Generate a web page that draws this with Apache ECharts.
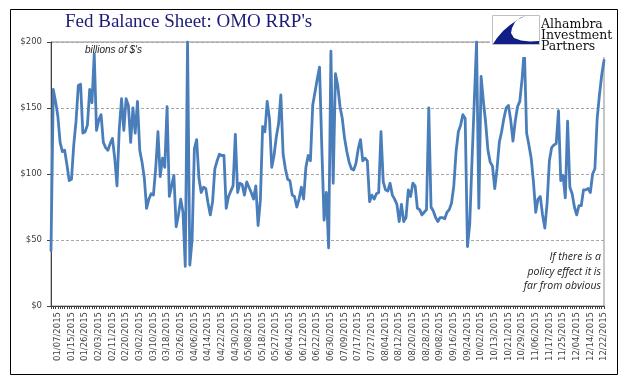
<!DOCTYPE html>
<html>
<head>
<meta charset="utf-8">
<script src="https://cdn.jsdelivr.net/npm/echarts@6/dist/echarts.min.js"></script>
<style>
html,body{margin:0;padding:0;background:#fff;}
#chart{width:641px;height:381px;}
</style>
</head>
<body>
<div id="chart"></div>
<script>
// ---- Category dates (Fed business days 2015) ----
const datesJan = ['01/02/2015','01/05/2015','01/06/2015','01/07/2015','01/08/2015','01/09/2015','01/12/2015','01/13/2015','01/14/2015','01/15/2015','01/16/2015','01/20/2015','01/21/2015','01/22/2015','01/23/2015','01/26/2015','01/27/2015','01/28/2015','01/29/2015','01/30/2015'];
const datesFeb = ['02/02/2015','02/03/2015','02/04/2015','02/05/2015','02/06/2015','02/09/2015','02/10/2015','02/11/2015','02/12/2015','02/13/2015','02/17/2015','02/18/2015','02/19/2015','02/20/2015','02/23/2015','02/24/2015','02/25/2015','02/26/2015','02/27/2015'];
const datesMar = ['03/02/2015','03/03/2015','03/04/2015','03/05/2015','03/06/2015','03/09/2015','03/10/2015','03/11/2015','03/12/2015','03/13/2015','03/16/2015','03/17/2015','03/18/2015','03/19/2015','03/20/2015','03/23/2015','03/24/2015','03/25/2015','03/26/2015','03/27/2015','03/30/2015','03/31/2015'];
const datesApr = ['04/01/2015','04/02/2015','04/06/2015','04/07/2015','04/08/2015','04/09/2015','04/10/2015','04/13/2015','04/14/2015','04/15/2015','04/16/2015','04/17/2015','04/20/2015','04/21/2015','04/22/2015','04/23/2015','04/24/2015','04/27/2015','04/28/2015','04/29/2015','04/30/2015'];
const datesMay = ['05/01/2015','05/04/2015','05/05/2015','05/06/2015','05/07/2015','05/08/2015','05/11/2015','05/12/2015','05/13/2015','05/14/2015','05/15/2015','05/18/2015','05/19/2015','05/20/2015','05/21/2015','05/22/2015','05/26/2015','05/27/2015','05/28/2015','05/29/2015'];
const datesJun = ['06/01/2015','06/02/2015','06/03/2015','06/04/2015','06/05/2015','06/08/2015','06/09/2015','06/10/2015','06/11/2015','06/12/2015','06/15/2015','06/16/2015','06/17/2015','06/18/2015','06/19/2015','06/22/2015','06/23/2015','06/24/2015','06/25/2015','06/26/2015','06/29/2015','06/30/2015'];
const datesJul = ['07/01/2015','07/02/2015','07/06/2015','07/07/2015','07/08/2015','07/09/2015','07/10/2015','07/13/2015','07/14/2015','07/15/2015','07/16/2015','07/17/2015','07/20/2015','07/21/2015','07/22/2015','07/23/2015','07/24/2015','07/27/2015','07/28/2015','07/29/2015','07/30/2015','07/31/2015'];
const datesAug = ['08/03/2015','08/04/2015','08/05/2015','08/06/2015','08/07/2015','08/10/2015','08/11/2015','08/12/2015','08/13/2015','08/14/2015','08/17/2015','08/18/2015','08/19/2015','08/20/2015','08/21/2015','08/24/2015','08/25/2015','08/26/2015','08/27/2015','08/28/2015','08/31/2015'];
const datesSep = ['09/01/2015','09/02/2015','09/03/2015','09/04/2015','09/08/2015','09/09/2015','09/10/2015','09/11/2015','09/14/2015','09/15/2015','09/16/2015','09/17/2015','09/18/2015','09/21/2015','09/22/2015','09/23/2015','09/24/2015','09/25/2015','09/28/2015','09/29/2015','09/30/2015'];
const datesOct = ['10/01/2015','10/02/2015','10/05/2015','10/06/2015','10/07/2015','10/08/2015','10/09/2015','10/13/2015','10/14/2015','10/15/2015','10/16/2015','10/19/2015','10/20/2015','10/21/2015','10/22/2015','10/23/2015','10/26/2015','10/27/2015','10/28/2015','10/29/2015','10/30/2015'];
const datesNov = ['11/02/2015','11/03/2015','11/04/2015','11/05/2015','11/06/2015','11/09/2015','11/10/2015','11/12/2015','11/13/2015','11/16/2015','11/17/2015','11/18/2015','11/19/2015','11/20/2015','11/23/2015','11/24/2015','11/25/2015','11/27/2015','11/30/2015'];
const datesDec = ['12/01/2015','12/02/2015','12/03/2015','12/04/2015','12/07/2015','12/08/2015','12/09/2015','12/10/2015','12/11/2015','12/14/2015','12/15/2015','12/16/2015','12/17/2015','12/18/2015','12/21/2015','12/22/2015'];

// ---- OMO RRP, billions of $ ----
const rrpJan = [42,164,155,144,124,117,118,107,95,96,122,140,167,168,131,132,137,164,154,191];
const rrpFeb = [133,141,145,124,120,118,123,127,112,91,134,157,133,157,152,124,150,131,155];
const rrpMar = [118,109,97,74,81,85,84,104,132,98,112,105,151,83,91,99,60,69,81,71,30,200];
const rrpApr = [31,50,119,126,97,86,90,89,78,69,79,104,110,115,114,114,74,83,87,91,130];
const rrpMay = [86,93,92,84,94,90,86,81,91,61,80,136,132,155,142,105,114,128,138,160];
const rrpJun = [115,104,96,95,84,83,75,81,90,81,105,114,110,152,162,172,181,120,65,86,44,193];
const rrpJul = [93,176,167,151,142,127,117,109,104,103,108,119,126,110,112,110,79,84,81,85,86,132];
const rrpAug = [94,88,87,93,84,81,77,64,77,64,67,88,83,93,91,74,73,69,71,73,150];
const rrpSep = [75,72,67,64,67,67,66,71,73,78,91,117,132,137,145,142,45,62,110,155,200];
const rrpOct = [74,174,155,139,118,109,106,89,104,124,132,142,150,152,141,125,140,151,155,172,195];
const rrpNov = [131,122,112,94,71,81,83,69,59,78,110,120,122,123,148,95,99,82,140];
const rrpDec = [90,85,75,69,76,76,88,88,89,86,100,104,142,160,175,186];

// ---- Tick labels shown on the category axis ----
const tickLabels = ['01/07/2015','01/15/2015','01/26/2015','02/03/2015','02/11/2015','02/20/2015','03/02/2015','03/10/2015','03/18/2015','03/26/2015','04/06/2015','04/14/2015','04/22/2015','04/30/2015','05/08/2015','05/18/2015','05/27/2015','06/04/2015','06/12/2015','06/22/2015','06/30/2015','07/09/2015','07/17/2015','07/27/2015','08/04/2015','08/12/2015','08/20/2015','08/28/2015','09/08/2015','09/16/2015','09/24/2015','10/02/2015','10/13/2015','10/21/2015','10/29/2015','11/06/2015','11/17/2015','11/25/2015','12/04/2015','12/14/2015','12/22/2015'];

const categories = [].concat(datesJan,datesFeb,datesMar,datesApr,datesMay,datesJun,datesJul,datesAug,datesSep,datesOct,datesNov,datesDec);
const values = [].concat(rrpJan,rrpFeb,rrpMar,rrpApr,rrpMay,rrpJun,rrpJul,rrpAug,rrpSep,rrpOct,rrpNov,rrpDec);

const chart = echarts.init(document.getElementById('chart'), null, {renderer:'canvas'});
const labelFont = 'DejaVu Sans';
chart.setOption({
  animation: false,
  backgroundColor: '#ffffff',
  grid: {left: 51, right: 37, top: 42, bottom: 75, show: true, borderColor: '#8c8c8c', borderWidth: 1, backgroundColor: 'transparent'},
  xAxis: {
    type: 'category',
    data: categories,
    boundaryGap: false,
    axisLine: {lineStyle: {color: '#404040', width: 1}},
    axisTick: {show: true, interval: 0, length: 3, lineStyle: {color: '#404040'}},
    axisLabel: {
      interval: function (i, v) { return tickLabels.indexOf(v) >= 0; },
      rotate: 90, margin: 6, fontFamily: labelFont, fontSize: 8.5, color: '#404040'
    },
    splitLine: {show: false}
  },
  yAxis: {
    type: 'value', min: 0, max: 200, interval: 50,
    axisLine: {show: true, lineStyle: {color: '#404040', width: 1}},
    axisTick: {show: true, length: 4, lineStyle: {color: '#404040'}},
    axisLabel: {formatter: '${value}', margin: 9, fontFamily: labelFont, fontSize: 8.5, color: '#404040'},
    splitLine: {show: true, lineStyle: {color: '#a6a6a6', type: [3, 2], width: 1}}
  },
  series: [{
    type: 'line', data: values, showSymbol: false, smooth: false, clip: true,
    lineStyle: {color: '#4a7ebb', width: 2.8, join: 'round', cap: 'round'},
    z: 3
  }],
  graphic: [
    {type: 'rect', shape: {x: 10.5, y: 9.5, width: 607, height: 365}, style: {fill: 'none', stroke: '#000', lineWidth: 1}, z: 10},
    {type: 'text', x: 65, y: 22.3, style: {text: "Fed Balance Sheet: OMO RRP's", font: '19px "Liberation Serif"', fill: '#1c1c78', textAlign: 'left', verticalAlign: 'middle'}, z: 10},
    {type: 'text', x: 85, y: 50.5, style: {text: "billions of $'s", font: 'italic 10px "Liberation Sans"', fill: '#222', textAlign: 'left', verticalAlign: 'middle'}, z: 10},
    {type: 'text', x: 601, y: 257.5, style: {text: 'If there is a', font: 'italic 10.5px "Open Sans"', fill: '#222', textAlign: 'right', verticalAlign: 'middle'}, z: 10},
    {type: 'text', x: 601, y: 272, style: {text: 'policy effect it is', font: 'italic 10.5px "Open Sans"', fill: '#222', textAlign: 'right', verticalAlign: 'middle'}, z: 10},
    {type: 'text', x: 601, y: 286.5, style: {text: 'far from obvious', font: 'italic 10.5px "Open Sans"', fill: '#222', textAlign: 'right', verticalAlign: 'middle'}, z: 10},
    // logo block
    {type: 'rect', shape: {x: 490, y: 10, width: 127, height: 47}, style: {fill: '#ffffff', stroke: 'none'}, z: 20},
    {type: 'rect', shape: {x: 492.5, y: 15.5, width: 47, height: 29}, style: {fill: '#ffffff', stroke: '#c0c0c0', lineWidth: 1}, z: 21},
    {type: 'polygon', shape: {points: [[526,15.5],[518,19.5],[510,25],[503,31],[497,38],[493,44],[539,44],[539,41],[530,41.5],[521,40.5],[514,38],[511,33],[512,28],[515,22],[520,18]]}, style: {fill: '#0f1f86', stroke: 'none'}, z: 22},
    {type: 'text', x: 541, y: 24.6, style: {text: 'Alhambra', font: '12.5px "DejaVu Serif"', fill: '#111', textAlign: 'left', verticalAlign: 'middle'}, z: 22},
    {type: 'text', x: 541, y: 35.6, style: {text: 'Investment', font: '12.5px "DejaVu Serif"', fill: '#111', textAlign: 'left', verticalAlign: 'middle'}, z: 22},
    {type: 'text', x: 541, y: 46.6, style: {text: 'Partners', font: '12.5px "DejaVu Serif"', fill: '#111', textAlign: 'left', verticalAlign: 'middle'}, z: 22}
  ]
});
</script>
</body>
</html>
